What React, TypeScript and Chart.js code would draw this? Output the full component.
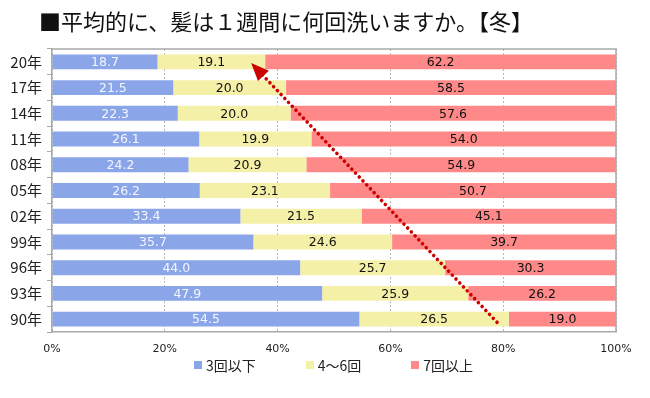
import React, { useEffect, useRef } from "react";
import { Chart, registerables } from "chart.js";

Chart.register(...registerables);

const titleText = "■平均的に、髪は１週間に何回洗いますか。【冬】";
const years = ["20年", "17年", "14年", "11年", "08年", "05年", "02年", "99年", "96年", "93年", "90年"];
const seriesNames = ["3回以下", "4～6回", "7回以上"];
const low = [18.7, 21.5, 22.3, 26.1, 24.2, 26.2, 33.4, 35.7, 44.0, 47.9, 54.5];
const mid = [19.1, 20.0, 20.0, 19.9, 20.9, 23.1, 21.5, 24.6, 25.7, 25.9, 26.5];
const high = [62.2, 58.5, 57.6, 54.0, 54.9, 50.7, 45.1, 39.7, 30.3, 26.2, 19.0];
const xTickValues = [0, 20, 40, 60, 80, 100];
// arrow annotation in data units (x: percent, y: category index)
const arrowFrom = { x: 78.9, y: 10.12 };
const arrowTo = { x: 35.3, y: 0.04 };

const colors = ["#8aa5e8", "#f5f0a8", "#ff8888"];
const labelColors = ["#f4f6ff", "#111111", "#111111"];
const gridGray = "#a9a9a9";

const framePlugin = {
  id: "frame",
  afterDatasetsDraw(chart: any) {
    const { ctx, chartArea } = chart;
    ctx.save();
    ctx.strokeStyle = gridGray;
    ctx.lineWidth = 1.5;
    ctx.beginPath();
    ctx.moveTo(chartArea.left, chartArea.top);
    ctx.lineTo(chartArea.right, chartArea.top);
    ctx.lineTo(chartArea.right, chartArea.bottom);
    ctx.stroke();
    ctx.restore();
  },
};

const valueLabelPlugin = {
  id: "valueLabels",
  afterDatasetsDraw(chart: any) {
    const { ctx } = chart;
    ctx.save();
    ctx.font = "12.5px 'DejaVu Sans', Verdana, sans-serif";
    ctx.textAlign = "center";
    ctx.textBaseline = "middle";
    chart.data.datasets.forEach((ds: any, di: number) => {
      const meta = chart.getDatasetMeta(di);
      meta.data.forEach((bar: any, i: number) => {
        const v = ds.data[i];
        const cx = (bar.x + bar.base) / 2;
        ctx.fillStyle = labelColors[di];
        ctx.fillText(v.toFixed(1), cx, bar.y + 1);
      });
    });
    ctx.restore();
  },
};

const arrowPlugin = {
  id: "trendArrow",
  afterDatasetsDraw(chart: any) {
    const { ctx } = chart;
    const xs = chart.scales.x;
    const ys = chart.scales.y;
    const x0 = xs.getPixelForValue(arrowFrom.x);
    const y0 = ys.getPixelForValue(arrowFrom.y);
    const x1 = xs.getPixelForValue(arrowTo.x);
    const y1 = ys.getPixelForValue(arrowTo.y);
    const dx = x1 - x0;
    const dy = y1 - y0;
    const len = Math.hypot(dx, dy);
    const ux = dx / len;
    const uy = dy / len;
    const headLen = 18;
    const headHalf = 7.5;
    const bx = x1 - ux * headLen;
    const by = y1 - uy * headLen;
    ctx.save();
    ctx.strokeStyle = "#cc0000";
    ctx.fillStyle = "#cc0000";
    ctx.lineWidth = 3.6;
    ctx.lineCap = "round";
    ctx.setLineDash([0.01, 5.4]);
    ctx.beginPath();
    ctx.moveTo(x0, y0);
    ctx.lineTo(bx + ux * 2, by + uy * 2);
    ctx.stroke();
    ctx.setLineDash([]);
    ctx.beginPath();
    ctx.moveTo(x1, y1);
    ctx.lineTo(bx - uy * headHalf, by + ux * headHalf);
    ctx.lineTo(bx + uy * headHalf, by - ux * headHalf);
    ctx.closePath();
    ctx.fill();
    ctx.restore();
  },
};

export default function App() {
  const canvasRef = useRef<HTMLCanvasElement | null>(null);

  useEffect(() => {
    document.body.style.margin = "0";
    const canvas = canvasRef.current;
    if (!canvas) return;
    const seriesData = [low, mid, high];
    const chart = new Chart(canvas, {
      type: "bar",
      data: {
        labels: years,
        datasets: seriesNames.map((name, i) => ({
          label: name,
          data: seriesData[i],
          backgroundColor: colors[i],
          borderWidth: 0,
          barPercentage: 0.58,
          categoryPercentage: 1,
        })),
      },
      options: {
        indexAxis: "y",
        responsive: false,
        animation: false,
        devicePixelRatio: 1,
        layout: { padding: { top: 49, right: 34, bottom: 41, left: 0 } },
        plugins: {
          legend: { display: false },
          title: { display: false },
          tooltip: { enabled: false },
        },
        scales: {
          x: {
            stacked: true,
            min: 0,
            max: 100,
            afterBuildTicks(scale: any) {
              scale.ticks = xTickValues.map((v) => ({ value: v }));
            },
            afterFit(scale: any) {
              scale.height = 25;
            },
            grid: { color: "#b5b5b5", lineWidth: 1, drawTicks: false },
            border: { color: gridGray, width: 1.5, dash: [2, 2] },
            ticks: {
              padding: 11,
              color: "#222",
              font: { family: "'DejaVu Sans', Verdana, sans-serif", size: 11 },
              callback: (v: any) => v + "%",
            },
          },
          y: {
            stacked: true,
            afterFit(scale: any) {
              scale.width = 52;
            },
            grid: { drawOnChartArea: false, tickLength: 5, color: gridGray, offset: true },
            border: { color: gridGray, width: 1.5 },
            ticks: {
              padding: 5,
              color: "#222",
              font: { family: "'Noto Sans CJK JP', sans-serif", size: 15 },
            },
          },
        },
      },
      plugins: [framePlugin, valueLabelPlugin, arrowPlugin],
    } as any);
    return () => chart.destroy();
  }, []);

  return (
    <div style={{ position: "relative", width: 650, height: 398, background: "#fff", overflow: "hidden" }}>
      <div
        style={{
          position: "absolute",
          left: 39,
          top: 5,
          fontFamily: "'Noto Sans CJK JP', sans-serif",
          fontSize: 22,
          lineHeight: "30px",
          color: "#111",
          whiteSpace: "nowrap",
        }}
      >
        {titleText}
      </div>
      <canvas ref={canvasRef} width={650} height={398} style={{ display: "block" }} />
      <div
        style={{
          position: "absolute",
          left: 194,
          top: 355,
          display: "flex",
          alignItems: "center",
          fontFamily: "'Noto Sans CJK JP', sans-serif",
          fontSize: 14,
          lineHeight: "20px",
          color: "#222",
          whiteSpace: "nowrap",
        }}
      >
        {seriesNames.map((name, i) => (
          <div key={name} style={{ display: "flex", alignItems: "center", marginRight: i < seriesNames.length - 1 ? 50 : 0 }}>
            <span style={{ display: "inline-block", width: 8, height: 8, background: colors[i], marginRight: 4 }} />
            <span>{name}</span>
          </div>
        ))}
      </div>
    </div>
  );
}
